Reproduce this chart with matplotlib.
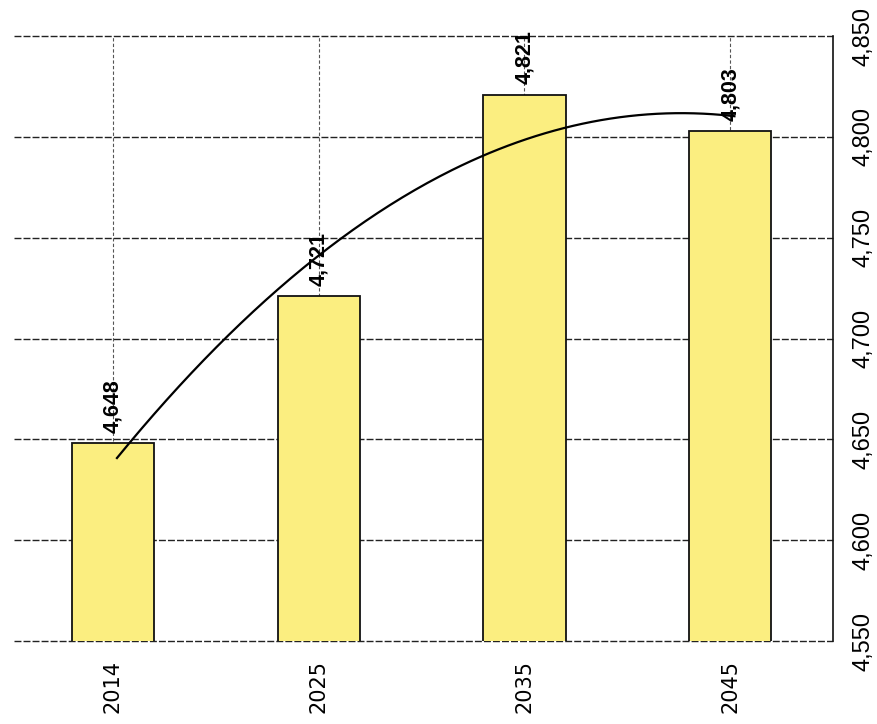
import numpy as np
import matplotlib
matplotlib.use('Agg')
import matplotlib.pyplot as plt

years = ['2014', '2025', '2035', '2045']
values = [4648, 4721, 4821, 4803]
value_labels = ['4,648', '4,721', '4,821', '4,803']
ytick_vals = [4550, 4600, 4650, 4700, 4750, 4800, 4850]
ytick_labels = ['4,550', '4,600', '4,650', '4,700', '4,750', '4,800', '4,850']

fig = plt.figure(figsize=(8.78, 7.24), dpi=100)
ax = fig.add_axes([0.016, 0.1146, 0.933, 0.8356])

x = np.arange(len(years))

# grid lines (dashed, like the scan)
for v in ytick_vals:
    ax.axhline(v, color='#222222', lw=1.0, ls=(0, (5, 1.5)), zorder=1,
               clip_on=False)
for xi in x:
    ax.axvline(xi, color='#555555', lw=0.8, ls=(0, (3, 2)), zorder=1)

ax.bar(x, values, width=0.4, bottom=0, color='#FBEE80', edgecolor='#111111',
       linewidth=1.3, zorder=2)

# 2nd order polynomial trendline
coef = np.polyfit(x, values, 2)
xs = np.linspace(0, 3, 200)
ax.plot(xs + 0.02, np.polyval(coef, xs), color='black', lw=1.6, zorder=4)

for xi, v, lab in zip(x, values, value_labels):
    ax.text(xi, v + 5, lab, rotation=90, ha='center', va='bottom',
            fontsize=15.5, fontweight='bold', family='Liberation Sans',
            zorder=5)

ax.set_xlim(-0.48, 3.5)
ax.set_ylim(4550, 4850)
ax.set_xticks(x)
ax.set_xticklabels(years, rotation=90, fontsize=15, family='DejaVu Sans')
ax.yaxis.tick_right()
ax.set_yticks(ytick_vals)
ax.set_yticklabels(ytick_labels, rotation=90, va='center', fontsize=17,
                   family='Liberation Sans')
ax.tick_params(axis='x', length=0, pad=14)
ax.tick_params(axis='y', length=0, pad=14)

ax.spines['left'].set_visible(False)
ax.spines['bottom'].set_visible(False)
ax.spines['top'].set_visible(False)
ax.spines['right'].set_color('#111111')
ax.spines['right'].set_linewidth(1.2)

fig.savefig('out.png', dpi=100)
